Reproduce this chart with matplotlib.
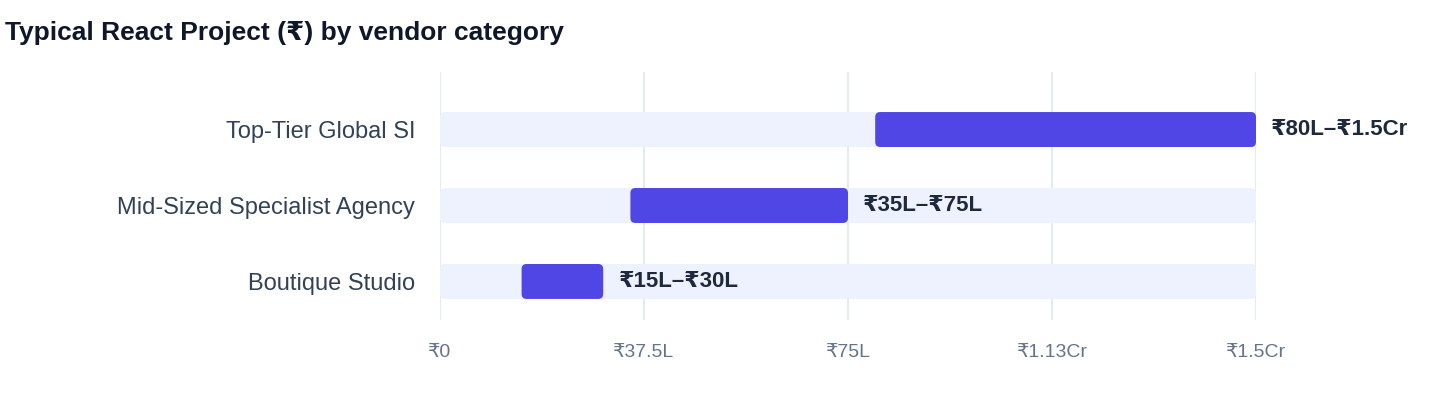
import matplotlib
matplotlib.use("Agg")
import matplotlib.pyplot as plt
from matplotlib.patches import FancyBboxPatch

plt.rcParams['font.family'] = ['Liberation Sans', 'DejaVu Sans']

# data (lakhs of rupees)
categories = ["Top-Tier Global SI", "Mid-Sized Specialist Agency", "Boutique Studio"]
low = [80, 35, 15]
high = [150, 75, 30]
range_labels = ["₹80L–₹1.5Cr", "₹35L–₹75L", "₹15L–₹30L"]
axis_max = 150
tick_values = [0, 37.5, 75, 112.5, 150]
tick_labels = ["₹0", "₹37.5L", "₹75L", "₹1.13Cr", "₹1.5Cr"]

bar_col = "#4f46e5"
track_col = "#eef2ff"
grid_col = "#e2e8f0"

fig = plt.figure(figsize=(14.4, 4.08), dpi=100)
ax = fig.add_axes([440/1440, 88/408, 816/1440, 248/408])

ax.set_xlim(0, axis_max)
ax.set_ylim(-0.507, 2.757)
ypos = [2, 1, 0]
h = 0.46

# rounding radius ~5px converted to data units
px_x = 816 / axis_max
px_y = 76.0
r = 5 / px_x
aspect = (1 / px_y) / (1 / px_x)

for y, lo, hi, lab in zip(ypos, low, high, range_labels):
    track = FancyBboxPatch((0, y - h/2), axis_max, h,
                           boxstyle=f"round,pad=0,rounding_size={r}",
                           mutation_aspect=aspect, fc=track_col, ec="none", zorder=1)
    ax.add_patch(track)
    bar = FancyBboxPatch((lo, y - h/2), hi - lo, h,
                         boxstyle=f"round,pad=0,rounding_size={r}",
                         mutation_aspect=aspect, fc=bar_col, ec="none", zorder=2)
    ax.add_patch(bar)
    ax.annotate(lab, xy=(hi, y), xytext=(11, 0), textcoords="offset points",
                ha="left", va="center", fontsize=16, fontweight="bold",
                color="#1e293b", zorder=3)

ax.set_yticks(ypos)
ax.set_yticklabels(categories, fontsize=17, color="#334155")
ax.set_xticks(tick_values)
ax.set_xticklabels(tick_labels, fontsize=14, color="#64748b")
ax.tick_params(axis="both", length=0)
ax.tick_params(axis="y", pad=18)
ax.tick_params(axis="x", pad=17)
ax.grid(axis="x", color=grid_col, linewidth=1.3, zorder=0)
ax.set_axisbelow(True)
for s in ax.spines.values():
    s.set_visible(False)

fig.text(5/1440, 1 - 33/408, "Typical React Project (₹) by vendor category",
         fontsize=19, fontweight="bold", color="#0f172a", ha="left", va="center")

fig.savefig("out.png", dpi=100)
